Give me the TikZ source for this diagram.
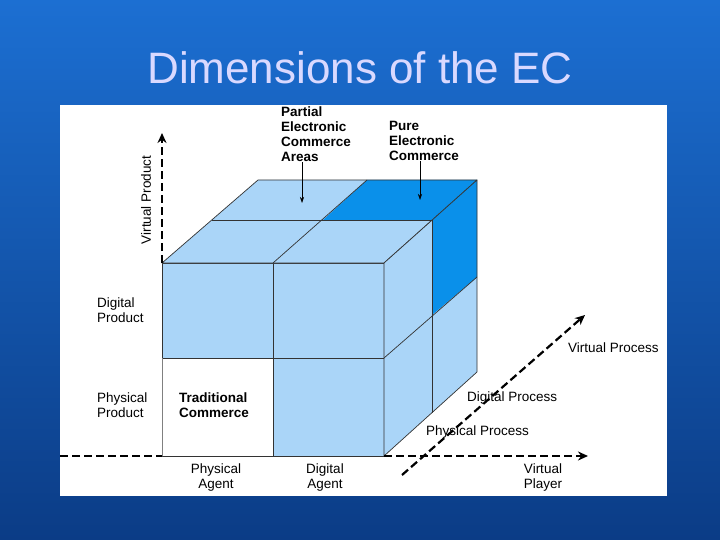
\documentclass[tikz,border=0pt]{standalone}
\usepackage{fontspec}
\setmainfont{Liberation Sans}
\usetikzlibrary{arrows.meta}
\definecolor{lb}{HTML}{AAD5F8}
\definecolor{db}{HTML}{0A90EA}
\definecolor{bgtop}{HTML}{1C6FD2}
\definecolor{bgbot}{HTML}{0B3C86}
\tikzset{
  face/.style={draw=black!80, line width=0.7pt, line join=round},
  ax/.style={line width=2.2pt, dash pattern=on 8pt off 4pt, -{Stealth[length=10pt,width=9pt]}},
  lab/.style={font=\fontsize{13.5}{15}\selectfont, align=left, inner sep=0pt},
  blab/.style={lab, font=\fontsize{13.5}{15}\selectfont\bfseries},
  pt/.style={-{Stealth[length=6pt,width=4pt]}, line width=0.6pt}
}
\begin{document}
\begin{tikzpicture}[x=1pt,y=-1pt]
\useasboundingbox (0,0) rectangle (720,540);
\shade[top color=bgtop, bottom color=bgbot] (0,0) rectangle (720,540);
\node[font=\fontsize{44}{46}\selectfont, text=white!85!blue] (title) at (360,68) {Dimensions of the EC};
\fill[white] (60,105) rectangle (667,496);
% front face
\fill[lb] (162,263) rectangle (384,358);
\fill[lb] (273,358) rectangle (384,456);
\draw[face] (162,263) rectangle (384,456);
\draw[face] (273,263) -- (273,456);
\draw[face] (162,358) -- (384,358);
\draw[black!50, line width=0.6pt] (162,358) -- (162,456);
% top face
\fill[lb] (162,263) -- (258,180) -- (477,180) -- (384,263) -- cycle;
\fill[db] (367,180) -- (477,180) -- (432,220) -- (323,220) -- cycle;
\draw[face] (162,263) -- (258,180) -- (477,180) -- (384,263) -- cycle;
\draw[face] (212,220) -- (432,220);
\draw[face] (273,263) -- (367,180);
% right face
\fill[lb] (384,263) -- (477,180) -- (477,372) -- (384,456) -- cycle;
\fill[db] (432,220) -- (477,180) -- (477,277) -- (432,315) -- cycle;
\draw[face] (384,263) -- (477,180) -- (477,372) -- (384,456) -- cycle;
\draw[face] (432,220) -- (432,413);
\draw[face] (384,358) -- (477,277);
% axes
\coordinate (o) at (162,263);
\coordinate (vp) at (162,133);
\draw[ax] (o) -- (vp);
\coordinate (hl) at (60,456);
\coordinate (h0) at (162,456);
\draw[line width=2.2pt, dash pattern=on 8pt off 4pt] (hl) -- (h0);
\coordinate (hr) at (384,456);
\coordinate (hv) at (588,456);
\draw[ax] (hr) -- (hv);
\coordinate (d0) at (402,475);
\coordinate (d1) at (585,315);
\draw[ax] (d0) -- (d1);
% labels
\node[lab, rotate=90] (lvp) at (146,200) {Virtual Product};
\node[lab, anchor=north west] (ldp) at (97,298) {Digital\\Product};
\node[lab, anchor=north west] (lpp) at (97,393) {Physical\\Product};
\node[blab, anchor=north west] (ltc) at (179,393) {Traditional\\Commerce};
\node[lab, anchor=north, align=center] (lpa) at (216,464) {Physical\\Agent};
\node[lab, anchor=north, align=center] (lda) at (325,464) {Digital\\Agent};
\node[lab, anchor=north, align=center] (lvpl) at (543,464) {Virtual\\Player};
\node[lab, anchor=west] (lvpr) at (568,348) {Virtual Process};
\node[lab, anchor=west] (ldpr) at (467,398) {Digital Process};
\node[lab, anchor=west] (lppr) at (426,432) {Physical Process};
\node[blab, anchor=north west] (lpec) at (281,107) {Partial\\Electronic\\Commerce\\Areas};
\node[blab, anchor=north west] (lpure) at (389,121) {Pure\\Electronic\\Commerce};
\coordinate (a1) at (302,203);
\coordinate (a2) at (420,200);
\draw[pt] (lpec.south -| a1) -- (a1);
\draw[pt] (lpure.south -| a2) -- (a2);
\end{tikzpicture}
\end{document}
